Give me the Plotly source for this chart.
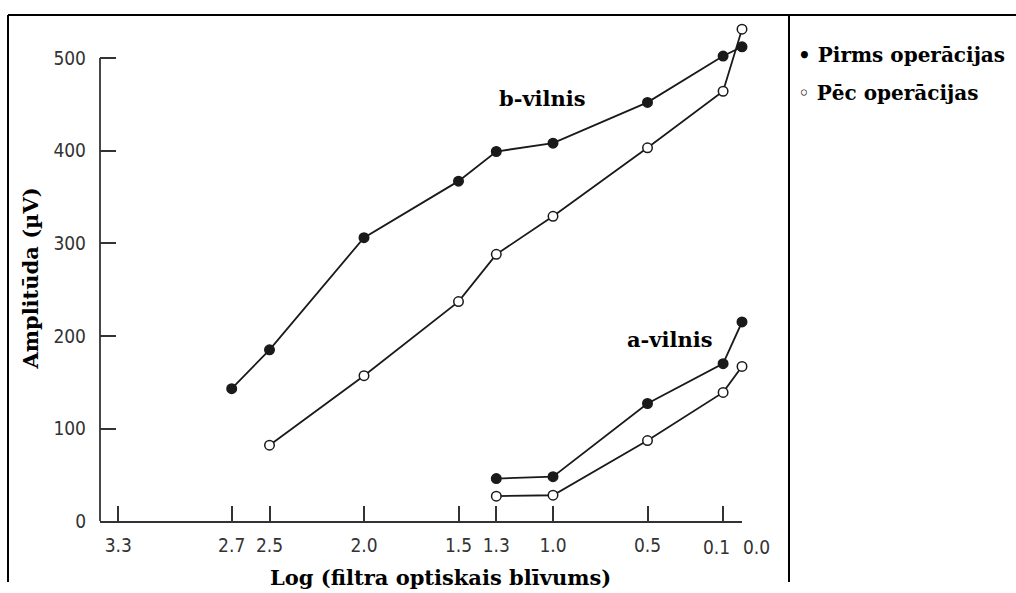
import plotly.graph_objects as go

# ---- data ----
x_b = [2.7, 2.5, 2.0, 1.5, 1.3, 1.0, 0.5, 0.1, 0.0]
b_pirms = [143, 185, 306, 367, 399, 408, 452, 502, 512]
x_b_pec = [2.5, 2.0, 1.5, 1.3, 1.0, 0.5, 0.1, 0.0]
b_pec = [82, 157, 237, 288, 329, 403, 464, 531]
x_a = [1.3, 1.0, 0.5, 0.1, 0.0]
a_pirms = [46, 48, 127, 170, 215]
a_pec = [27, 28, 87, 139, 167]

x_ticks = [3.3, 2.7, 2.5, 2.0, 1.5, 1.3, 1.0, 0.5, 0.1, 0.0]
x_tick_text = ["3.3", "2.7", "2.5", "2.0", "1.5", "1.3", "1.0", "0.5", "0.1", "0.0"]
y_ticks = [0, 100, 200, 300, 400, 500]

# ---- layout geometry (pixels) ----
W, H = 1016, 593
SY = 0.983                         # vertical compensation observed in the renderer
X_LEFT, X_ZERO = 100, 742
PX_PER_X = 189.0
Y_ZERO, Y_500, Y_TOP = 522, 58, 18
x_range = [(X_ZERO - X_LEFT) / PX_PER_X, 0.0]
y_range = [0, (Y_ZERO - Y_TOP) / (Y_ZERO - Y_500) * 500.0]

LINE = "#1a1a1a"
AX = "#333333"
SERIF = "DejaVu Serif, Liberation Serif, serif"
SANS = "DejaVu Sans Condensed, Liberation Sans Narrow, sans-serif"

fig = go.Figure()

def add(xs, ys, filled):
    fig.add_trace(go.Scatter(
        x=xs, y=ys, mode="lines+markers",
        line=dict(color=LINE, width=1.8),
        marker=dict(symbol="circle", size=9.5,
                    color=LINE if filled else "white",
                    line=dict(color=LINE, width=1.5)),
        cliponaxis=False, showlegend=False, hoverinfo="skip"))

add(x_b, b_pirms, True)
add(x_b_pec, b_pec, False)
add(x_a, a_pirms, True)
add(x_a, a_pec, False)

def px(x):
    return x / W

def py(y):
    return max(0.0, 1 - (y / SY) / H)

TXT = dict(family=SERIF, size=21, color="black")
LEG = dict(family=SERIF, size=20, color="black")
TICKFONT = dict(family=SANS, size=19, color=AX)

# the two crowded tick labels (0.1 and 0.0) are drawn as annotations tied to the axis,
# nudged apart as in the reference
n_axis_labels = len(x_ticks) - 2
axis_ticktext = x_tick_text[:n_axis_labels] + ["", ""]
crowded = [
    dict(text=x_tick_text[-2], xref="x", yref="paper", x=x_ticks[-2], y=py(548),
         xshift=-7, showarrow=False, xanchor="center", yanchor="middle", font=TICKFONT),
    dict(text=x_tick_text[-1], xref="x", yref="paper", x=x_ticks[-1], y=py(548),
         xshift=14, showarrow=False, xanchor="center", yanchor="middle", font=TICKFONT),
]

fig.update_layout(
    width=W, height=H, autosize=False,
    margin=dict(l=0, r=0, t=0, b=0),
    paper_bgcolor="white", plot_bgcolor="white",
    xaxis=dict(domain=[px(X_LEFT), px(X_ZERO)], range=x_range,
               showgrid=False, zeroline=False,
               showline=True, linecolor=AX, linewidth=1.8,
               ticks="inside", ticklen=15, tickwidth=1.6, tickcolor=AX,
               tickvals=x_ticks, ticktext=axis_ticktext, tickangle=0,
               tickfont=TICKFONT, ticklabelstandoff=6),
    yaxis=dict(domain=[py(Y_ZERO), py(Y_TOP)], range=y_range,
               showgrid=False, zeroline=False, showline=False,
               ticks="inside", ticklen=16, tickwidth=1.6, tickcolor=AX,
               tickvals=y_ticks, tickfont=TICKFONT, ticklabelstandoff=13),
    shapes=[
        dict(type="line", xref="x domain", yref="y", x0=0, x1=0, y0=0, y1=500,
             line=dict(color=AX, width=1.8)),
        dict(type="line", xref="paper", yref="paper", x0=px(8), x1=1, y0=py(15), y1=py(15),
             line=dict(color="black", width=2)),
        dict(type="line", xref="paper", yref="paper", x0=px(8), x1=px(8), y0=0, y1=py(15),
             line=dict(color="black", width=2)),
        dict(type="line", xref="paper", yref="paper", x0=px(789), x1=px(789), y0=0, y1=py(15),
             line=dict(color="black", width=2)),
    ],
    annotations=crowded + [
        dict(text="<b>Log (filtra optiskais blīvums)</b>", xref="paper", yref="paper",
             x=px(440), y=py(578), showarrow=False, xanchor="center", yanchor="middle",
             font=TXT),
        dict(text="<b>Amplitūda (µV)</b>", xref="paper", yref="paper",
             x=px(31), y=py(279), showarrow=False, textangle=-90,
             xanchor="center", yanchor="middle", font=TXT),
        dict(text="<b>b-vilnis</b>", xref="paper", yref="paper",
             x=px(542), y=py(99), showarrow=False, xanchor="center", yanchor="middle",
             font=TXT),
        dict(text="<b>a-vilnis</b>", xref="paper", yref="paper",
             x=px(670), y=py(340), showarrow=False, xanchor="center", yanchor="middle",
             font=TXT),
        dict(text="<b>• Pirms operācijas</b>", xref="paper", yref="paper",
             x=px(796), y=py(55), showarrow=False, xanchor="left", yanchor="middle",
             font=LEG),
        dict(text="<b>◦ Pēc operācijas</b>", xref="paper", yref="paper",
             x=px(796), y=py(93), showarrow=False, xanchor="left", yanchor="middle",
             font=LEG),
    ],
)

fig.write_html(
    "out.html",
    post_script=(
        "var s='margin:0;padding:0;overflow:hidden;width:1016px;height:593px;';"
        "document.documentElement.style.cssText=s;"
        "document.body.style.cssText=s;"
        "document.querySelectorAll('.plotly-graph-div, .svg-container').forEach("
        "function(e){e.style.overflow='hidden';});"
    ),
)
